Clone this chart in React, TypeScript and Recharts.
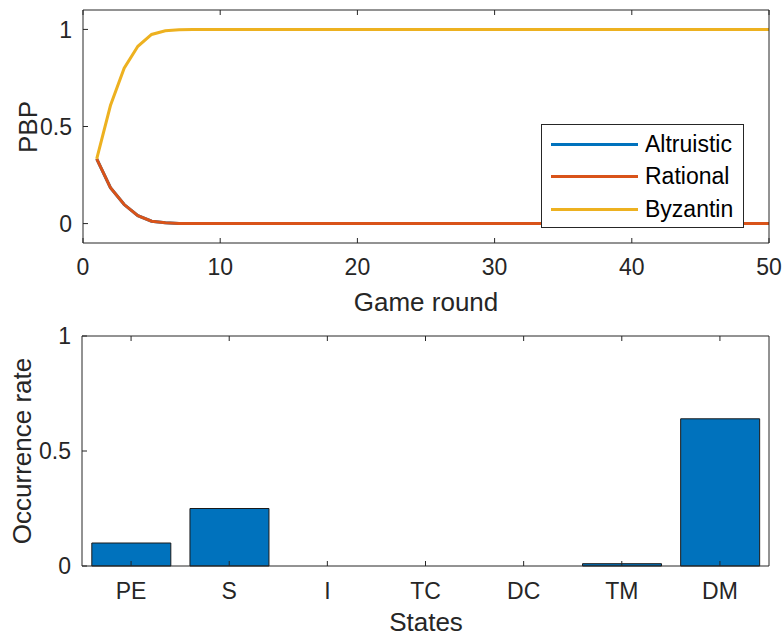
import React from 'react';
import { LineChart, Line, BarChart, Bar, XAxis, YAxis, Legend } from 'recharts';

const rounds = [1, 2, 3, 4, 5, 6, 7, 8, 9, 10, 11, 12, 13, 14, 15, 16, 17, 18, 19, 20, 21, 22, 23, 24, 25,
  26, 27, 28, 29, 30, 31, 32, 33, 34, 35, 36, 37, 38, 39, 40, 41, 42, 43, 44, 45, 46, 47, 48, 49, 50];
const altruistic = [0.333, 0.185, 0.098, 0.041, 0.012, 0.004, 0.001, 0, 0, 0, 0, 0, 0, 0, 0, 0, 0, 0, 0, 0, 0, 0, 0, 0, 0,
  0, 0, 0, 0, 0, 0, 0, 0, 0, 0, 0, 0, 0, 0, 0, 0, 0, 0, 0, 0, 0, 0, 0, 0, 0];
const rational = [0.333, 0.185, 0.098, 0.041, 0.012, 0.004, 0.001, 0, 0, 0, 0, 0, 0, 0, 0, 0, 0, 0, 0, 0, 0, 0, 0, 0, 0,
  0, 0, 0, 0, 0, 0, 0, 0, 0, 0, 0, 0, 0, 0, 0, 0, 0, 0, 0, 0, 0, 0, 0, 0, 0];
const byzantin = [0.333, 0.608, 0.8, 0.913, 0.974, 0.993, 0.998, 0.999, 1, 1, 1, 1, 1, 1, 1, 1, 1, 1, 1, 1, 1, 1, 1, 1, 1,
  1, 1, 1, 1, 1, 1, 1, 1, 1, 1, 1, 1, 1, 1, 1, 1, 1, 1, 1, 1, 1, 1, 1, 1, 1];
const roundTicks = [0, 10, 20, 30, 40, 50];
const pbpTicks = [0, 0.5, 1];

const states = ['PE', 'S', 'I', 'TC', 'DC', 'TM', 'DM'];
const occurrence = [0.1, 0.25, 0, 0, 0, 0.01, 0.64];
const rateTicks = [0, 0.5, 1];

const seriesNames = ['Altruistic', 'Rational', 'Byzantin'];
const colors = ['#0072BD', '#D95319', '#EDB120'];

const lineData = rounds.map((r, i) => ({
  round: r,
  Altruistic: altruistic[i],
  Rational: rational[i],
  Byzantin: byzantin[i],
}));
const barData = states.map((s, i) => ({ state: s, rate: occurrence[i] }));

const ink = '#262626';
const font = '"Liberation Sans", Arial, Helvetica, sans-serif';
const tickStyle = { fill: ink, fontSize: 23, fontFamily: font };

// label helpers, coordinates are in each chart's own svg
const yLabel = (text: string, x: number, y: number) => () => (
  <text x={x} y={y} transform={`rotate(-90 ${x} ${y})`} textAnchor="middle"
    fontSize={26} fill={ink} fontFamily={font}>{text}</text>
);
const xLabel = (text: string, x: number, y: number) => () => (
  <text x={x} y={y} textAnchor="middle" fontSize={26} fill={ink} fontFamily={font}>{text}</text>
);

function LegendBox() {
  return (
    <div style={{
      border: `1px solid ${ink}`, background: '#fff', width: 203, height: 104,
      boxSizing: 'border-box', paddingTop: 3, fontFamily: font, fontSize: 23, color: '#000',
    }}>
      {seriesNames.map((n, i) => (
        <div key={n} style={{ display: 'flex', alignItems: 'center', height: 32.5 }}>
          <div style={{ width: 87, height: 3, background: colors[i], marginLeft: 9, marginRight: 7 }} />
          <span>{n}</span>
        </div>
      ))}
    </div>
  );
}

export default function App() {
  return (
    <div style={{ position: 'absolute', left: 0, top: 0, width: 783, height: 640, background: '#fff', fontFamily: font }}>
      <LineChart width={783} height={320} data={lineData} margin={{ top: 9, right: 13, bottom: 0, left: 23 }}>
        <XAxis xAxisId="b" dataKey="round" type="number" domain={[0, 50]} ticks={roundTicks}
          height={77} tickSize={-5} tickMargin={21} stroke={ink} tick={tickStyle}
          label={{ content: xLabel('Game round', 426, 311) }} />
        <XAxis xAxisId="t" orientation="top" dataKey="round" type="number" domain={[0, 50]} ticks={roundTicks}
          height={1} tickSize={-5} stroke={ink} tickFormatter={() => ''} />
        <YAxis yAxisId="l" domain={[-0.1, 1.1]} ticks={pbpTicks} width={60} tickSize={-5} tickMargin={16}
          stroke={ink} tick={tickStyle} label={{ content: yLabel('PBP', 37, 127) }} />
        <YAxis yAxisId="r" orientation="right" domain={[-0.1, 1.1]} ticks={pbpTicks} width={1} tickSize={-5}
          stroke={ink} tickFormatter={() => ''} />
        {seriesNames.map((n, i) => (
          <Line key={n} xAxisId="b" yAxisId="l" type="linear" dataKey={n} stroke={colors[i]}
            strokeWidth={3} dot={false} isAnimationActive={false} />
        ))}
        <Legend layout="horizontal" verticalAlign="middle" align="center" content={() => <LegendBox />}
          wrapperStyle={{ left: 541, top: 124, width: 203 }} />
      </LineChart>
      <BarChart width={783} height={320} data={barData} barCategoryGap="10%"
        margin={{ top: 15, right: 13, bottom: 0, left: 22 }}>
        <XAxis xAxisId="b" dataKey="state" height={74} tickSize={-5} tickMargin={22} stroke={ink} tick={tickStyle}
          label={{ content: xLabel('States', 426, 311) }} />
        <XAxis xAxisId="t" orientation="top" dataKey="state" height={1} tickSize={-5} stroke={ink}
          tickFormatter={() => ''} />
        <YAxis yAxisId="l" domain={[0, 1]} ticks={rateTicks} width={60} tickSize={-5} tickMargin={16}
          stroke={ink} tick={tickStyle} label={{ content: yLabel('Occurrence rate', 31, 131) }} />
        <YAxis yAxisId="r" orientation="right" domain={[0, 1]} ticks={rateTicks} width={1} tickSize={-5}
          stroke={ink} tickFormatter={() => ''} />
        <Bar xAxisId="b" yAxisId="l" dataKey="rate" fill="#0072BD" stroke="#1a1a1a" strokeWidth={1}
          isAnimationActive={false} />
      </BarChart>
    </div>
  );
}
